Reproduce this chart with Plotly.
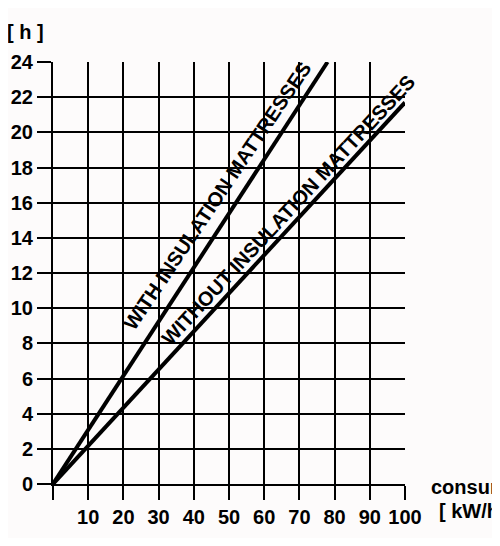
import plotly.graph_objects as go

# Data
with_x = [0, 78]
with_y = [0, 24]
without_x = [0, 100]
without_y = [0, 21.7]
x_ticks = [0, 10, 20, 30, 40, 50, 60, 70, 80, 90, 100]
x_labels = ["", "10", "20", "30", "40", "50", "60", "70", "80", "90", "100"]
y_ticks = [0, 2, 4, 6, 8, 10, 12, 14, 16, 18, 20, 22, 24]
label_with = "WITH INSULATION MATTRESSES"
label_without = "WITHOUT INSULATION MATTRESSES"

BG = "#fdfbfb"
FONT = "Liberation Sans, Arial, sans-serif"

OFF = 8  # page body margin
FW, FH = 500 - OFF, 546 - 2 * OFF
L, T, W, H = 53 - OFF, 62 - OFF, 352, 422

fig = go.Figure()
fig.add_trace(go.Scatter(x=with_x, y=with_y, mode="lines",
                         line=dict(color="black", width=4), showlegend=False,
                         cliponaxis=False))
fig.add_trace(go.Scatter(x=without_x, y=without_y, mode="lines",
                         line=dict(color="black", width=4), showlegend=False,
                         cliponaxis=False))

axis_common = dict(showgrid=True, gridcolor="black", gridwidth=2,
                   showline=True, linecolor="black", linewidth=2,
                   ticks="outside", ticklen=14, tickwidth=2, tickcolor="black",
                   zeroline=False, mirror=False, automargin=False,
                   tickfont=dict(family=FONT, size=20, color="black", weight="bold"))

fig.update_xaxes(range=[0, 100], tickvals=x_ticks, ticktext=x_labels, **axis_common)
fig.update_yaxes(range=[0, 24], tickvals=y_ticks, **axis_common)


def px_to_paper(px, py):
    # px, py in window pixels
    return (px - OFF - L) / W, (T + H - (py - OFF)) / H


fig.add_annotation(x=46.6, y=16.4, xref="x", yref="y", text=label_with,
                   textangle=-56, showarrow=False,
                   font=dict(family=FONT, size=20, color="black", weight="bold"))
fig.add_annotation(x=66.8, y=15.6, xref="x", yref="y", text=label_without,
                   textangle=-47, showarrow=False,
                   font=dict(family=FONT, size=20, color="black", weight="bold"))

px, py = px_to_paper(25, 32)
fig.add_annotation(xref="paper", yref="paper", x=px, y=py, text="[ h ]",
                   xanchor="center", yanchor="middle",
                   showarrow=False, font=dict(family=FONT, size=20, color="black", weight="bold"))
px, py = px_to_paper(429, 487)
fig.add_annotation(xref="paper", yref="paper", x=px, y=py,
                   xanchor="left", yanchor="middle", text="consumption", showarrow=False,
                   font=dict(family=FONT, size=20, color="black", weight="bold"))
px, py = px_to_paper(437, 511)
fig.add_annotation(xref="paper", yref="paper", x=px, y=py,
                   xanchor="left", yanchor="middle", text="[ kW/h ]", showarrow=False,
                   font=dict(family=FONT, size=20, color="black", weight="bold"))

fig.update_layout(width=FW, height=FH,
                  margin=dict(l=L, r=FW - L - W, t=T, b=FH - T - H),
                  paper_bgcolor=BG, plot_bgcolor=BG)

fig.write_html("out.html")
